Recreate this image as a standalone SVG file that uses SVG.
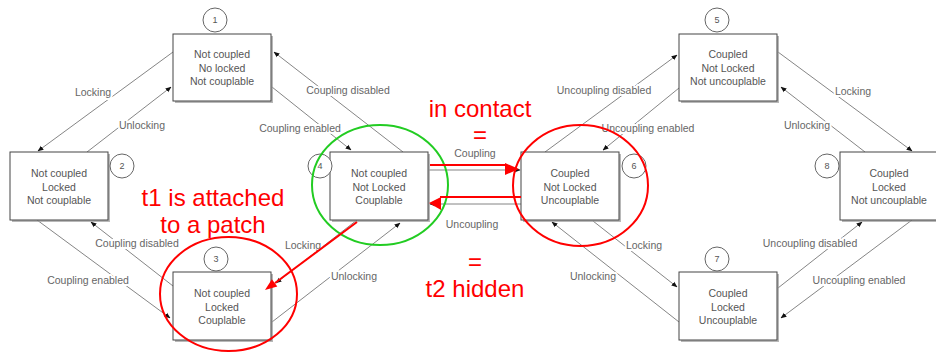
<svg xmlns="http://www.w3.org/2000/svg" width="936" height="359" viewBox="0 0 936 359">
<defs>
<marker id="ah" viewBox="0 0 10 10" refX="9" refY="5" markerWidth="6" markerHeight="6" markerUnits="userSpaceOnUse" orient="auto">
<path d="M0,1 L10,5 L0,9 Z" fill="#111"/>
</marker>
</defs>
<style>
.box{fill:#fff;stroke:#444;stroke-width:1}
.sh{fill:#9a9a9a;opacity:.7}
.num{fill:#fff;stroke:#666;stroke-width:1}
.nt{font-family:"Liberation Sans",Arial,sans-serif;font-size:10.5px;fill:#555;text-anchor:middle}
.nn{font-family:"Liberation Sans",Arial,sans-serif;font-size:9px;fill:#555;text-anchor:middle}
.edge{stroke:#777;stroke-width:0.9;fill:none;marker-end:url(#ah)}
.lbl{font-family:"Liberation Sans",Arial,sans-serif;font-size:10.5px;fill:#666;text-anchor:middle;stroke:#fff;stroke-width:4;paint-order:stroke;stroke-linejoin:round}
.rt{font-family:"Liberation Sans",Arial,sans-serif;font-size:24px;fill:#f00;text-anchor:middle}
.rl{stroke:#f00;stroke-width:2;fill:none}
</style>
<rect width="936" height="359" fill="#fff"/>
<g id="connectors">
<line class="edge" x1="173" y1="52" x2="38" y2="151"/>
<line class="edge" x1="87" y1="152" x2="171" y2="87"/>
<line class="edge" x1="403" y1="152" x2="274" y2="52"/>
<line class="edge" x1="272" y1="87" x2="351" y2="150"/>
<line class="edge" x1="173" y1="286" x2="91" y2="222"/>
<line class="edge" x1="37" y1="220" x2="170" y2="318"/>
<line class="edge" x1="357" y1="220" x2="276" y2="283"/>
<line class="edge" x1="272" y1="322" x2="400" y2="223"/>
<line class="edge" x1="429" y1="170" x2="520" y2="170"/>
<line class="edge" x1="521" y1="204" x2="430" y2="204"/>
<line class="edge" x1="545" y1="152" x2="677" y2="55"/>
<line class="edge" x1="679" y1="88" x2="603" y2="150"/>
<line class="edge" x1="778" y1="52" x2="912" y2="151"/>
<line class="edge" x1="865" y1="152" x2="781" y2="87"/>
<line class="edge" x1="778" y1="288" x2="862" y2="222"/>
<line class="edge" x1="912" y1="220" x2="781" y2="318"/>
<line class="edge" x1="593" y1="221" x2="677" y2="287"/>
<line class="edge" x1="679" y1="322" x2="552" y2="222"/>
<text class="lbl" x="93" y="96">Locking</text>
<text class="lbl" x="142" y="129">Unlocking</text>
<text class="lbl" x="348" y="94">Coupling disabled</text>
<text class="lbl" x="300" y="132">Coupling enabled</text>
<text class="lbl" x="137" y="247">Coupling disabled</text>
<text class="lbl" x="88" y="284">Coupling enabled</text>
<text class="lbl" x="303" y="249">Locking</text>
<text class="lbl" x="354" y="280">Unlocking</text>
<text class="lbl" x="475" y="157">Coupling</text>
<text class="lbl" x="472" y="228">Uncoupling</text>
<text class="lbl" x="604" y="94">Uncoupling disabled</text>
<text class="lbl" x="648" y="132">Uncoupling enabled</text>
<text class="lbl" x="853" y="95">Locking</text>
<text class="lbl" x="807" y="129">Unlocking</text>
<text class="lbl" x="810" y="247">Uncoupling disabled</text>
<text class="lbl" x="859" y="284">Uncoupling enabled</text>
<text class="lbl" x="644" y="249">Locking</text>
<text class="lbl" x="593" y="280">Unlocking</text>
</g>
<g id="node1">
<rect class="sh" x="175" y="36" width="98" height="67"/>
<rect class="box" x="173" y="34" width="98" height="67"/>
<text class="nt" x="222" y="58">Not coupled</text>
<text class="nt" x="222" y="72">No locked</text>
<text class="nt" x="222" y="85">Not couplable</text>
<circle class="num" cx="215" cy="20" r="12"/>
<text class="nn" x="215" y="23">1</text>
</g>
<g id="node2">
<rect class="sh" x="12" y="154" width="98" height="68"/>
<rect class="box" x="10" y="152" width="98" height="68"/>
<text class="nt" x="59" y="177">Not coupled</text>
<text class="nt" x="59" y="191">Locked</text>
<text class="nt" x="59" y="204">Not couplable</text>
<circle class="num" cx="122" cy="166" r="12"/>
<text class="nn" x="122" y="169">2</text>
</g>
<g id="node3">
<rect class="sh" x="175" y="274" width="98" height="68"/>
<rect class="box" x="173" y="272" width="98" height="68"/>
<text class="nt" x="222" y="297">Not coupled</text>
<text class="nt" x="222" y="311">Locked</text>
<text class="nt" x="222" y="324">Couplable</text>
<circle class="num" cx="216" cy="259" r="12"/>
<text class="nn" x="216" y="262">3</text>
</g>
<g id="node4">
<rect class="sh" x="332" y="154" width="98" height="68"/>
<rect class="box" x="330" y="152" width="98" height="68"/>
<text class="nt" x="379" y="177">Not coupled</text>
<text class="nt" x="379" y="191">Not Locked</text>
<text class="nt" x="379" y="204">Couplable</text>
<circle class="num" cx="320" cy="166" r="12"/>
<text class="nn" x="320" y="169">4</text>
</g>
<g id="node5">
<rect class="sh" x="681" y="36" width="98" height="67"/>
<rect class="box" x="679" y="34" width="98" height="67"/>
<text class="nt" x="728" y="58">Coupled</text>
<text class="nt" x="728" y="72">Not Locked</text>
<text class="nt" x="728" y="85">Not uncouplable</text>
<circle class="num" cx="717" cy="20" r="12"/>
<text class="nn" x="717" y="23">5</text>
</g>
<g id="node6">
<rect class="sh" x="523" y="154" width="98" height="68"/>
<rect class="box" x="521" y="152" width="98" height="68"/>
<text class="nt" x="570" y="177">Coupled</text>
<text class="nt" x="570" y="191">Not Locked</text>
<text class="nt" x="570" y="204">Uncouplable</text>
<circle class="num" cx="634" cy="166" r="12"/>
<text class="nn" x="634" y="169">6</text>
</g>
<g id="node7">
<rect class="sh" x="681" y="274" width="98" height="68"/>
<rect class="box" x="679" y="272" width="98" height="68"/>
<text class="nt" x="728" y="297">Coupled</text>
<text class="nt" x="728" y="311">Locked</text>
<text class="nt" x="728" y="324">Uncouplable</text>
<circle class="num" cx="717" cy="259" r="12"/>
<text class="nn" x="717" y="262">7</text>
</g>
<g id="node8">
<rect class="sh" x="842" y="154" width="98" height="68"/>
<rect class="box" x="840" y="152" width="98" height="68"/>
<text class="nt" x="889" y="177">Coupled</text>
<text class="nt" x="889" y="191">Locked</text>
<text class="nt" x="889" y="204">Not uncouplable</text>
<circle class="num" cx="827" cy="166" r="12"/>
<text class="nn" x="827" y="169">8</text>
</g>
<g id="annotations">
<ellipse cx="380" cy="185" rx="68" ry="60" fill="none" stroke="#2c2" stroke-width="2"/>
<ellipse class="rl" cx="580.5" cy="185.5" rx="67.5" ry="60.5"/>
<ellipse class="rl" cx="228.5" cy="294" rx="68.5" ry="57"/>
<line class="rl" x1="430" y1="165" x2="507" y2="165"/>
<polygon points="519,169 505,163 505,175" fill="#f00"/>
<line class="rl" x1="521" y1="197" x2="440" y2="197"/>
<polygon points="429,203 441,197 441,210" fill="#f00"/>
<line class="rl" x1="357" y1="222" x2="275" y2="283"/>
<polygon points="265,290 277.3,286.5 271.9,279.3" fill="#f00"/>
<text class="rt" x="480" y="117">in contact</text>
<text class="rt" x="480" y="143" font-size="20">=</text>
<text class="rt" x="213" y="206">t1 is attached</text>
<text class="rt" x="213" y="233">to a patch</text>
<text class="rt" x="475" y="270">=</text>
<text class="rt" x="475" y="297">t2 hidden</text>
</g>
</svg>
